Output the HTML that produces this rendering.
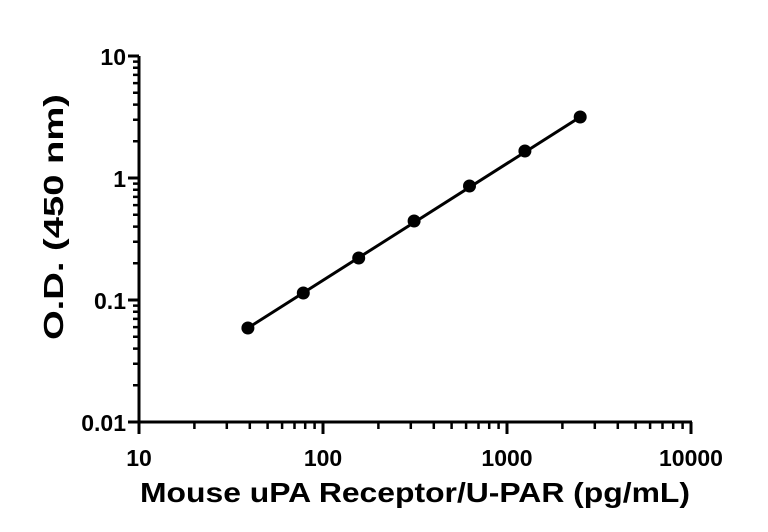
<!DOCTYPE html>
<html><head><style>
body{margin:0;background:#fff}
svg{display:block}
text{font-family:"Liberation Sans",sans-serif;font-weight:bold;fill:#000}
</style></head><body>
<svg width="768" height="532" viewBox="0 0 768 532">
<g stroke="#000" stroke-width="3" fill="none">
<path d="M139,56V424M137.5,422H692"/>
<path d="M128,422H139M128,300H139M128,178H139M128,56H139"/>
<path d="M139,422V434M323,422V434M507,422V434M691,422V434"/>
</g>
<g stroke="#000" stroke-width="2.5" fill="none">
<path d="M133,385.3H139M133,363.8H139M133,348.6H139M133,336.7H139M133,327.1H139M133,318.9H139M133,311.8H139M133,305.6H139
M133,263.3H139M133,241.8H139M133,226.6H139M133,214.7H139M133,205.1H139M133,196.9H139M133,189.8H139M133,183.6H139
M133,141.3H139M133,119.8H139M133,104.6H139M133,92.7H139M133,83.1H139M133,74.9H139M133,67.8H139M133,61.6H139"/>
<path d="M194.4,422V429M226.8,422V429M249.8,422V429M267.6,422V429M282.1,422V429M294.5,422V429M305.2,422V429M314.6,422V429
M378.4,422V429M410.8,422V429M433.8,422V429M451.6,422V429M466.1,422V429M478.5,422V429M489.2,422V429M498.6,422V429
M562.4,422V429M594.8,422V429M617.8,422V429M635.6,422V429M650.1,422V429M662.5,422V429M673.2,422V429M682.6,422V429"/>
</g>
<line x1="247.9" y1="328" x2="580.2" y2="117" stroke="#000" stroke-width="3"/>
<g fill="#000">
<circle cx="247.9" cy="328" r="6.5"/><circle cx="303.3" cy="293" r="6.5"/><circle cx="358.7" cy="258" r="6.5"/>
<circle cx="414.1" cy="221" r="6.5"/><circle cx="469.5" cy="186" r="6.5"/><circle cx="524.9" cy="151" r="6.5"/>
<circle cx="580.2" cy="117" r="6.5"/>
</g>
<g font-size="23" text-anchor="end">
<text x="126" y="65">10</text><text x="126" y="187">1</text><text x="126" y="309">0.1</text><text x="126" y="431">0.01</text>
</g>
<g font-size="23" text-anchor="middle">
<text x="139" y="466">10</text><text x="323" y="466">100</text><text x="507" y="466">1000</text><text x="691" y="466">10000</text>
</g>
<text x="140" y="502" font-size="28" textLength="550" lengthAdjust="spacingAndGlyphs">Mouse uPA Receptor/U-PAR (pg/mL)</text>
<text transform="translate(63,340) rotate(-90)" font-size="28" textLength="246" lengthAdjust="spacingAndGlyphs">O.D. (450 nm)</text>
</svg>
</body></html>
